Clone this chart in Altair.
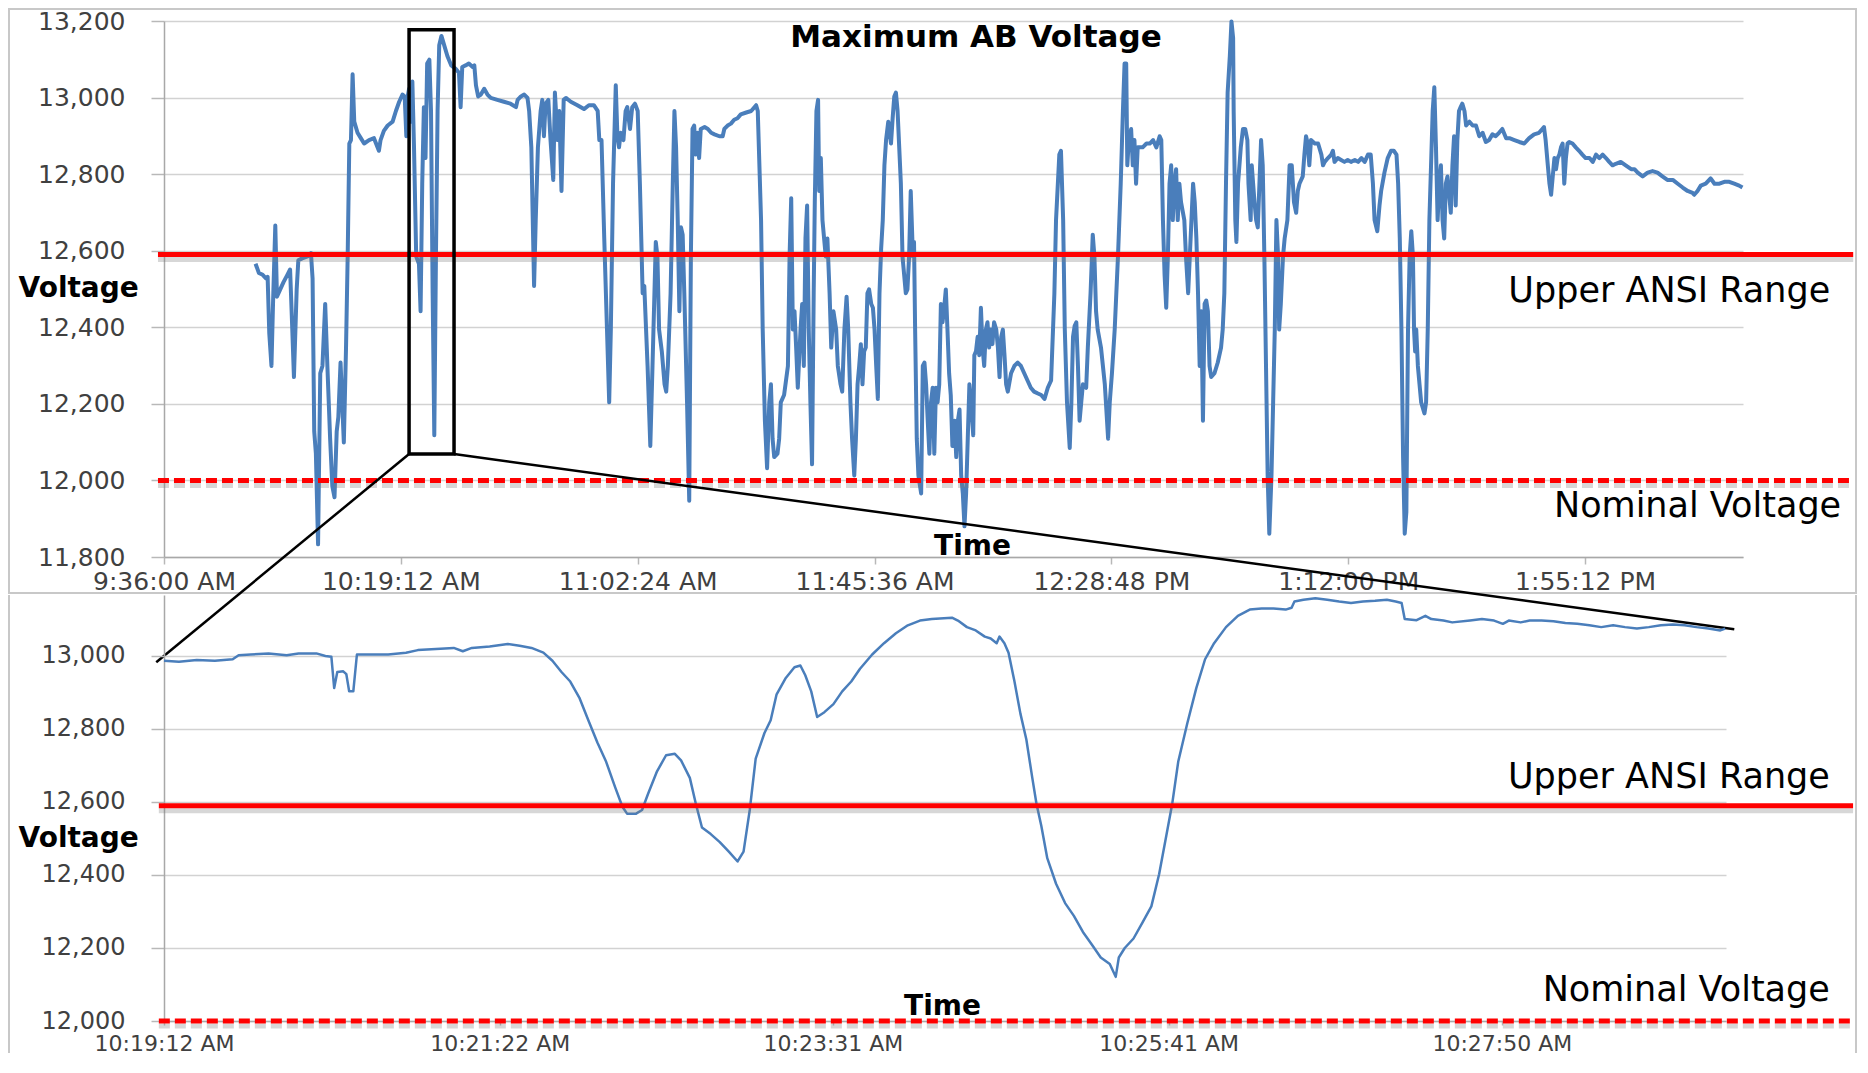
import altair as alt
import pandas as pd

# ---------------- data ----------------
# Top chart: (minutes after 9:36:00 AM, volts)
TOP_A = [
    (16.7, 12566), (17.3, 12542), (18.0, 12537), (18.6, 12528), (18.9, 12532), (19.2, 12385),
    (19.6, 12299), (19.9, 12470), (20.3, 12666), (20.6, 12480), (21.2, 12499), (21.8, 12518),
    (22.5, 12537), (23.0, 12551), (23.4, 12394), (23.7, 12270), (24.2, 12499), (24.5, 12575),
    (25.2, 12580), (26.2, 12585), (26.8, 12594), (27.1, 12528), (27.4, 12128), (27.7, 12071),
    (28.1, 11833), (28.5, 12280), (28.9, 12299), (29.4, 12461), (29.8, 12299), (30.3, 12109),
    (30.7, 11985), (31.1, 11956), (31.5, 12128), (31.8, 12166), (32.2, 12308), (32.5, 12204),
    (32.8, 12099), (33.2, 12347), (33.5, 12585), (33.8, 12880), (34.1, 12889), (34.4, 13061),
    (34.7, 12937), (35.3, 12908), (35.9, 12894), (36.5, 12880), (37.4, 12889), (38.3, 12894),
    (39.2, 12861), (39.5, 12889), (40.1, 12913), (40.8, 12927), (41.7, 12937), (42.3, 12965),
    (42.9, 12989), (43.5, 13008), (43.9, 13003), (44.2, 12899), (44.4, 12999), (44.7, 13023),
    (45.0, 12937), (45.3, 13042), (45.6, 12870), (46.0, 12585), (46.5, 12566), (46.8, 12442),
    (47.1, 12775), (47.4, 12975), (47.7, 12842), (48.0, 13089), (48.4, 13099), (48.7, 12965),
    (49.0, 12489), (49.3, 12118), (49.6, 12585), (49.9, 12965), (50.2, 13137), (50.6, 13161),
    (51.1, 13137), (51.7, 13108), (52.4, 13084), (53.2, 13075), (53.8, 13065), (54.1, 12975),
    (54.4, 13080), (55.0, 13084), (55.6, 13089), (56.3, 13080), (56.6, 13084), (56.9, 13032),
    (57.3, 13003), (57.8, 13008), (58.4, 13023), (59.0, 13008), (59.6, 12999), (60.8, 12994),
    (62.0, 12989), (63.2, 12984), (64.2, 12975), (64.5, 12994), (65.1, 13003), (65.7, 13008),
    (66.3, 12999), (66.6, 12965), (67.0, 12870), (67.5, 12508), (67.8, 12680), (68.2, 12870),
    (68.7, 12965), (69.0, 12994), (69.3, 12899), (69.6, 12984), (70.1, 12994), (70.5, 12889),
    (71.0, 12785), (71.3, 13013), (71.8, 12889), (72.1, 12965), (72.5, 12756), (72.9, 12994),
    (73.3, 12999), (74.2, 12989), (75.4, 12980), (76.6, 12970), (77.5, 12980), (78.4, 12980),
    (79.1, 12965), (79.4, 12889), (79.8, 12889), (80.3, 12632), (80.8, 12394), (81.2, 12204),
    (81.5, 12394), (81.9, 12775), (82.4, 13032), (82.7, 12899), (83.0, 12870), (83.3, 12908),
    (83.8, 12889), (84.2, 12965), (84.5, 12975), (85.0, 12918), (85.4, 12975), (85.9, 12984),
    (86.4, 12965), (86.8, 12775), (87.3, 12489), (87.6, 12508),
]
TOP_B = [
    (88.2, 12299), (88.7, 12090), (89.1, 12299), (89.7, 12623), (90.0, 12585), (90.3, 12394),
    (90.8, 12337), (91.3, 12251), (91.6, 12232), (91.9, 12299), (92.4, 12489), (92.8, 12775),
    (93.1, 12965), (93.4, 12870), (93.7, 12680), (94.0, 12442), (94.3, 12661), (94.6, 12642),
    (94.9, 12489), (95.4, 12204), (95.8, 11947), (96.1, 12585), (96.4, 12918), (96.7, 12927),
    (97.0, 12851), (97.3, 12908), (97.6, 12842), (97.9, 12918), (98.6, 12923), (99.2, 12918),
    (99.8, 12908), (100.4, 12904), (101.3, 12899), (101.9, 12899), (102.2, 12918), (102.8, 12927),
    (103.4, 12932), (104.0, 12942), (104.6, 12946), (105.2, 12956), (106.2, 12961), (107.1, 12965),
    (108.0, 12980), (108.3, 12965), (108.9, 12680), (109.2, 12394), (109.6, 12156), (110.0, 12032),
    (110.4, 12204), (110.7, 12251), (111.0, 12109), (111.3, 12061), (111.9, 12070), (112.2, 12109),
    (112.5, 12204), (113.1, 12223), (113.8, 12299), (114.1, 12585), (114.4, 12737), (114.7, 12394),
    (115.0, 12442), (115.3, 12347), (115.6, 12242), (116.1, 12394), (116.4, 12461), (116.7, 12299),
    (117.0, 12632), (117.3, 12718), (117.6, 12394), (117.9, 12204), (118.2, 12042), (118.5, 12489),
    (118.7, 12727), (119.0, 12965), (119.3, 12994), (119.5, 12756), (119.8, 12842), (120.1, 12680),
    (120.4, 12632), (120.7, 12585), (121.0, 12632), (121.4, 12489), (121.7, 12347), (122.1, 12442),
    (122.6, 12394), (122.9, 12299), (123.4, 12251), (123.7, 12232), (124.1, 12394), (124.5, 12480),
    (124.8, 12394), (125.2, 12204), (125.5, 12109), (125.9, 12013), (126.2, 12109), (126.5, 12251),
    (126.8, 12299), (127.1, 12356), (127.4, 12251), (127.7, 12337), (128.0, 12347), (128.3, 12489),
    (128.6, 12499), (129.0, 12461), (129.3, 12451), (129.6, 12394), (129.9, 12299), (130.2, 12213),
    (130.5, 12489), (130.8, 12604), (131.1, 12680), (131.4, 12823), (131.7, 12889), (132.1, 12937),
    (132.6, 12880), (132.9, 12946), (133.2, 13003), (133.5, 13013), (133.8, 12965), (134.1, 12870),
    (134.4, 12775), (134.7, 12585), (135.0, 12537), (135.3, 12489), (135.6, 12499), (135.9, 12585),
    (136.2, 12756), (136.6, 12585), (136.8, 12623), (137.0, 12394), (137.3, 12109), (137.6, 12013),
    (138.1, 11966), (138.4, 12299), (138.7, 12308), (139.0, 12251), (139.3, 12156), (139.6, 12070),
    (139.9, 12204), (140.2, 12242), (140.5, 12070), (140.8, 12242), (141.1, 12204), (141.4, 12251),
    (141.7, 12461), (142.0, 12413), (142.3, 12451), (142.6, 12499), (142.9, 12394), (143.2, 12280),
    (143.5, 12223), (143.8, 12090), (144.2, 12156), (144.5, 12061), (144.8, 12156), (145.1, 12185),
    (145.4, 12013), (145.7, 11966), (146.0, 11880), (146.3, 11966), (146.6, 12109), (146.9, 12251),
    (147.2, 12204), (147.6, 12118), (147.8, 12327), (148.1, 12337), (148.4, 12375), (148.7, 12327),
    (149.0, 12451), (149.3, 12347), (149.6, 12299), (149.9, 12394), (150.2, 12413), (150.5, 12347),
    (150.8, 12394), (151.1, 12356), (151.4, 12413), (151.8, 12394), (152.1, 12347), (152.4, 12270),
    (152.7, 12375), (153.0, 12394), (153.3, 12327), (153.6, 12251), (153.9, 12232), (154.5, 12280),
    (155.1, 12299), (155.7, 12308), (156.3, 12299), (156.9, 12280), (157.5, 12261), (158.1, 12242),
    (158.7, 12232), (159.4, 12227), (160.0, 12223), (160.6, 12213), (161.2, 12242), (161.8, 12261),
    (162.4, 12489), (162.7, 12680),
]
TOP_C = [
    (163.3, 12851), (163.6, 12861), (164.0, 12680), (164.3, 12394), (164.7, 12204), (165.2, 12085),
    (165.5, 12204), (165.8, 12375), (166.1, 12404), (166.4, 12413), (166.7, 12299), (167.0, 12156),
    (167.3, 12204), (167.6, 12251), (168.2, 12242), (168.5, 12347), (169.0, 12489), (169.4, 12642),
    (169.7, 12585), (170.0, 12442), (170.3, 12394), (170.9, 12347), (171.6, 12251), (172.2, 12109),
    (172.5, 12204), (172.9, 12280), (173.4, 12394), (174.0, 12585), (174.5, 12775), (174.9, 12965),
    (175.2, 13089), (175.5, 13089), (175.7, 12823), (175.9, 12870), (176.1, 12889), (176.4, 12918),
    (176.7, 12823), (177.0, 12889), (177.3, 12775), (177.6, 12870), (178.5, 12870), (179.2, 12880),
    (179.8, 12880), (180.4, 12889), (181.0, 12870), (181.6, 12899), (181.9, 12889), (182.2, 12680),
    (182.5, 12537), (182.8, 12451), (183.1, 12585), (183.4, 12775), (183.7, 12823), (184.0, 12680),
    (184.3, 12775), (184.6, 12813), (184.9, 12680), (185.2, 12775), (185.5, 12727), (186.1, 12680),
    (186.4, 12585), (186.8, 12489), (187.1, 12585), (187.4, 12680), (187.7, 12775), (188.0, 12727),
    (188.3, 12632), (188.6, 12489), (188.9, 12299), (189.2, 12442), (189.5, 12156), (189.8, 12461),
    (190.1, 12470), (190.4, 12442), (190.7, 12299), (191.0, 12270), (191.6, 12280), (192.2, 12308),
    (192.8, 12347), (193.1, 12394), (193.4, 12489), (193.7, 12775), (194.0, 13013), (194.4, 13108),
    (194.7, 13199), (195.0, 13156), (195.1, 12965), (195.4, 12680), (195.6, 12623), (195.9, 12775),
    (196.4, 12870), (196.8, 12918), (197.2, 12918), (197.6, 12889), (197.8, 12775), (198.2, 12680),
    (198.4, 12823), (198.9, 12727), (199.2, 12680), (199.5, 12661), (199.8, 12775), (200.1, 12889),
    (200.4, 12823), (200.7, 12585), (201.0, 12299), (201.3, 12013), (201.6, 11861), (202.0, 12013),
    (202.3, 12204), (202.6, 12394), (202.9, 12680), (203.2, 12585), (203.4, 12394), (203.7, 12461),
    (204.1, 12585), (204.4, 12632), (204.9, 12680), (205.3, 12823), (205.7, 12823), (206.1, 12727),
    (206.5, 12699), (206.8, 12756), (207.1, 12775), (207.7, 12794), (208.0, 12851), (208.3, 12899),
    (208.6, 12880), (208.9, 12823), (209.2, 12889), (209.9, 12880), (210.5, 12880), (211.1, 12851),
    (211.4, 12823), (211.7, 12832), (212.3, 12842), (212.9, 12851), (213.2, 12861), (213.5, 12832),
    (214.1, 12842), (214.7, 12837), (215.3, 12832), (215.9, 12837), (216.5, 12832), (217.2, 12837),
    (217.8, 12832), (218.4, 12842), (219.0, 12832), (219.6, 12851), (220.1, 12851), (220.5, 12775),
    (220.8, 12680), (221.3, 12651), (221.7, 12718), (222.0, 12756), (222.6, 12804), (223.2, 12842),
    (223.8, 12861), (224.3, 12861), (224.8, 12851), (225.1, 12775), (225.4, 12632), (225.7, 12394),
    (226.0, 12061), (226.3, 11861), (226.6, 11918), (226.9, 12394), (227.2, 12585), (227.5, 12651),
    (227.8, 12585), (228.0, 12394), (228.2, 12337), (228.4, 12394), (228.7, 12299), (229.0, 12251),
    (229.3, 12204), (229.9, 12175), (230.2, 12204), (230.5, 12394), (230.8, 12680),
]
TOP_D = [
    (231.4, 12965), (231.7, 13027), (232.0, 12870), (232.3, 12680), (232.6, 12775), (232.9, 12823),
    (233.2, 12680), (233.5, 12632), (233.8, 12775), (234.1, 12794), (234.7, 12699), (235.0, 12823),
    (235.3, 12899), (235.6, 12718), (235.9, 12889), (236.2, 12965), (236.5, 12975), (236.8, 12984),
    (237.2, 12965), (237.5, 12927), (238.1, 12937), (238.7, 12927), (239.3, 12927), (239.9, 12899),
    (240.5, 12908), (241.1, 12884), (241.7, 12889), (242.3, 12904), (242.9, 12899), (243.5, 12908),
    (244.1, 12918), (244.8, 12894), (245.4, 12894), (246.3, 12889), (247.2, 12884), (248.1, 12880),
    (249.0, 12894), (249.9, 12904), (250.8, 12908), (251.4, 12918), (251.7, 12923), (252.0, 12889),
    (252.4, 12823), (252.7, 12775), (253.0, 12746), (253.3, 12794), (253.6, 12842), (253.9, 12813),
    (254.2, 12842), (254.5, 12851), (254.8, 12870), (255.1, 12880), (255.4, 12775), (255.7, 12842),
    (256.0, 12880), (256.3, 12884), (256.9, 12880), (257.5, 12870), (258.1, 12861), (258.7, 12851),
    (259.3, 12842), (260.0, 12842), (260.6, 12832), (261.2, 12851), (261.8, 12842), (262.4, 12851),
    (263.0, 12842), (263.6, 12832), (264.2, 12823), (264.8, 12827), (265.7, 12832), (266.6, 12823),
    (267.6, 12813), (268.2, 12813), (268.8, 12804), (269.7, 12794), (270.6, 12804), (271.5, 12808),
    (272.4, 12804), (273.3, 12794), (274.2, 12785), (275.2, 12785), (276.1, 12775), (277.0, 12765),
    (277.9, 12756), (278.8, 12751), (279.1, 12746), (279.7, 12756), (280.3, 12770), (281.2, 12775),
    (282.1, 12789), (282.8, 12775), (283.7, 12775), (284.6, 12780), (285.5, 12780), (286.4, 12775),
    (287.3, 12770), (287.9, 12765),
]

# Zoomed chart: (seconds after 10:19:12 AM, volts)
ZOOM_A = [
    (0, 12987), (5.8, 12984), (12.7, 12989), (19.7, 12987), (26.6, 12991), (28.9, 13002),
    (33.6, 13004), (40.5, 13007), (47.5, 13002), (52.1, 13007), (59.0, 13007), (62.5, 13000),
    (64.8, 12998), (65.9, 12912), (67.1, 12956), (69.4, 12958), (70.6, 12950), (71.7, 12903),
    (73.3, 12903), (74.7, 13004), (79.8, 13004), (86.8, 13004), (93.7, 13009), (98.3, 13016),
    (105.3, 13019), (112.2, 13022), (115.7, 13013), (119.2, 13022), (126.1, 13026), (133.1, 13033),
    (137.7, 13028), (142.3, 13022), (146.9, 13009), (150.4, 12987), (153.9, 12956), (157.3, 12930),
    (160.8, 12886), (164.3, 12824), (167.8, 12763), (171.2, 12710), (174.7, 12640), (177.5, 12587),
    (179.3, 12568), (182.8, 12568), (185.1, 12578), (187.4, 12622), (190.9, 12684), (194.4, 12728),
    (197.8, 12732), (200.2, 12714), (203.6, 12666), (205.9, 12596), (208.3, 12530), (211.7, 12512),
    (215.2, 12490), (218.7, 12464), (222.1, 12437), (224.4, 12464), (226.8, 12578), (229.1, 12719),
    (232.5, 12789), (234.9, 12824), (237.2, 12895), (240.6, 12938), (244.1, 12969), (246.4, 12974),
    (248.3, 12947), (250.6, 12903), (252.9, 12833), (255.7, 12846), (259.2, 12868), (262.6, 12903),
    (266.1, 12930), (269.5, 12965), (274.2, 13004), (278.8, 13035), (283.4, 13062), (288.0, 13084),
    (292.7, 13097), (297.3, 13101),
]
ZOOM_B = [
    (305.1, 13105), (307.4, 13097), (310.9, 13079), (314.3, 13070), (317.8, 13053), (320.1, 13048),
    (322.4, 13035), (323.5, 13053), (325.4, 13035), (327.0, 13009), (329.3, 12930), (331.6, 12842),
    (333.9, 12771), (336.2, 12666), (337.8, 12596), (339.7, 12534), (342.0, 12446), (345.4, 12376),
    (348.9, 12323), (352.3, 12288), (355.8, 12244), (359.3, 12209), (362.7, 12174), (366.2, 12156),
    (368.5, 12121), (369.7, 12174), (372.0, 12200), (375.4, 12226), (378.9, 12270), (382.3, 12314),
    (385.3, 12402), (388.1, 12508), (390.4, 12596), (392.7, 12710), (396.2, 12815), (399.7, 12912),
    (403.1, 12991), (406.6, 13035), (411.2, 13079), (415.8, 13110), (420.4, 13127), (425.0, 13130),
    (429.6, 13130), (434.3, 13127), (436.6, 13132), (437.7, 13149), (441.2, 13154), (445.8, 13158),
    (450.4, 13154), (455.0, 13149), (459.6, 13145), (464.2, 13149), (468.9, 13151), (473.5, 13154),
    (476.9, 13149), (479.2, 13145), (480.4, 13101), (485.0, 13098), (488.4, 13110), (490.7, 13101),
    (495.4, 13097), (498.8, 13092), (505.7, 13097), (510.3, 13101), (515.0, 13097), (518.4, 13088),
    (520.7, 13097), (525.3, 13092), (528.8, 13097), (533.4, 13097), (538.0, 13095), (542.6, 13090),
    (547.2, 13088), (551.9, 13084), (556.5, 13079), (561.1, 13084), (565.7, 13079), (570.3, 13075),
    (574.9, 13079), (579.6, 13084), (584.2, 13086), (588.8, 13084), (593.4, 13079), (598.0, 13075),
    (602.6, 13070), (604.5, 13075),
]

TOP_TICKS = [(9, 36, 0), (10, 19, 12), (11, 2, 24), (11, 45, 36), (12, 28, 48), (13, 12, 0), (13, 55, 12)]
ZOOM_TICKS = [(10, 19, 12), (10, 21, 22), (10, 23, 31), (10, 25, 41), (10, 27, 50)]
TOP_Y_TICKS = [11800, 12000, 12200, 12400, 12600, 12800, 13000, 13200]
ZOOM_Y_TICKS = [12000, 12200, 12400, 12600, 12800, 13000]

UPPER_ANSI = 12590
NOMINAL = 12000
TITLE = "Maximum AB Voltage"
LBL_UPPER = "Upper ANSI Range"
LBL_NOMINAL = "Nominal Voltage"

# ---------------- layout / style ----------------
TOP_W, TOP_H = 1579, 536
BOT_W, BOT_H = 1562, 426
GAP = 38
TOP_SPAN_MIN = 288.0
TOP_YMIN, TOP_YMAX = 11800, 13200
ZOOM_SPAN_S = 604.8
ZOOM_YMIN, ZOOM_YMAX = 12000, 13167

BLUE = "#4a7ebb"
RED = "#ff0000"
GRID = "#d2d2d2"
FRAME = "#c8c8c8"
FONT = "DejaVu Sans"

T0 = pd.Timestamp("2013-06-01 09:36:00")
Z0 = pd.Timestamp("2013-06-01 10:19:12")


def stamp(ts):
    return ts.strftime("%Y-%m-%dT%H:%M:%S.") + f"{ts.microsecond // 1000:03d}"


def top_t(minutes):
    return stamp(T0 + pd.Timedelta(minutes=minutes))


def zoom_t(sec):
    return stamp(Z0 + pd.Timedelta(seconds=sec))


def dt(h, m, s=0, ms=0):
    return alt.DateTime(year=2013, month=6, date=1, hours=h, minutes=m, seconds=s, milliseconds=ms)


top_df = pd.DataFrame(TOP_A + TOP_B + TOP_C + TOP_D, columns=["m", "v"])
top_df["t"] = [top_t(m) for m in top_df["m"]]
zoom_df = pd.DataFrame(ZOOM_A + ZOOM_B, columns=["s", "v"])
zoom_df["t"] = [zoom_t(s) for s in zoom_df["s"]]

one = pd.DataFrame({"k": [0]})

# shared encodings (identical axis definitions in every layer so they merge)
X_TOP = alt.X("t:T", scale=alt.Scale(domain=[dt(9, 36), dt(14, 24)]), axis=alt.Axis(
    values=[dt(*t) for t in TOP_TICKS], format="%-I:%M:%S %p", grid=False,
    labelFlush=False, labelOverlap=False, tickSize=7, labelPadding=5, labelFontSize=25,
    title="Time", titleX=808, titleY=-11, titleAlign="center", titleBaseline="middle",
))
Y_TOP = alt.Y("v:Q", scale=alt.Scale(domain=[TOP_YMIN, TOP_YMAX], nice=False, zero=False), axis=alt.Axis(
    values=TOP_Y_TICKS, format=",d", grid=True, tickSize=13, labelPadding=26, labelFontSize=25,
    title="Voltage", titleAngle=0, titleX=-146, titleY=267, titleAlign="left", titleBaseline="middle",
))
X_ZOOM = alt.X("t:T", scale=alt.Scale(domain=[dt(10, 19, 12), dt(10, 29, 16, 800)]), axis=alt.Axis(
    values=[dt(*t) for t in ZOOM_TICKS], format="%-I:%M:%S %p", grid=False,
    labelFlush=False, labelOverlap=False, tickSize=4, labelPadding=8, labelFontSize=22,
    title="Time", titleX=778, titleY=-15, titleAlign="center", titleBaseline="middle",
))
Y_ZOOM = alt.Y("v:Q", scale=alt.Scale(domain=[ZOOM_YMIN, ZOOM_YMAX], nice=False, zero=False), axis=alt.Axis(
    values=ZOOM_Y_TICKS, format=",d", grid=True, tickSize=13, labelPadding=26, labelFontSize=24,
    title="Voltage", titleAngle=0, titleX=-146, titleY=243, titleAlign="left", titleBaseline="middle",
))


def bottom_to_top(sec, volts):
    """Place a point of the zoomed panel in the top panel's coordinates (for connector lines)."""
    px = BOT_W * sec / ZOOM_SPAN_S
    py = TOP_H + GAP + BOT_H * (ZOOM_YMAX - volts) / (ZOOM_YMAX - ZOOM_YMIN)
    minutes = px / TOP_W * TOP_SPAN_MIN
    v = TOP_YMAX - py / TOP_H * (TOP_YMAX - TOP_YMIN)
    return minutes, v


def ref_layers(df, X, Y):
    enc = dict(x=X, x2="t2:T", y=Y)
    solid = df[df["kind"] == "solid"]
    dashed = df[df["kind"] == "dashed"]
    return [
        alt.Chart(solid).mark_rule(color="#7a7a7a", strokeWidth=5, opacity=0.3, yOffset=5).encode(**enc),
        alt.Chart(dashed).mark_rule(color="#7a7a7a", strokeWidth=5, opacity=0.3, yOffset=5,
                                    strokeDash=[11, 5]).encode(**enc),
        alt.Chart(solid).mark_rule(color=RED, strokeWidth=5).encode(**enc),
        alt.Chart(dashed).mark_rule(color=RED, strokeWidth=5, strokeDash=[11, 5]).encode(**enc),
    ]


# ---------------- top panel ----------------
top_refs = pd.DataFrame({
    "t": [top_t(-1.1), top_t(-1.1)],
    "t2": [top_t(308.1), top_t(308.1)],
    "v": [UPPER_ANSI, NOMINAL],
    "kind": ["solid", "dashed"],
})
top_labels = pd.DataFrame({
    "t": [top_t(303.9), top_t(305.9)],
    "v": [12495, 11934],
    "label": [LBL_UPPER, LBL_NOMINAL],
})
top_title = pd.DataFrame({"t": [top_t(148.1)], "v": [13156], "label": [TITLE]})
box = pd.DataFrame({"t": [top_t(44.7)], "t2": [top_t(52.9)], "v": [13177], "v2": [12069]})

lm, lv = bottom_to_top(-3, 12983)
rm, rv = bottom_to_top(608, 13073)
connectors = pd.DataFrame({
    "t": [top_t(44.7), top_t(52.9)],
    "v": [12069, 12069],
    "t2": [top_t(lm), top_t(rm)],
    "v2": [lv, rv],
})

top_frame = alt.Chart(one).mark_rect(fillOpacity=0, stroke=FRAME, strokeWidth=2).encode(
    x=alt.value(-155), x2=alt.value(TOP_W + 113), y=alt.value(-12), y2=alt.value(TOP_H + 36)
)
top_line = alt.Chart(top_df).mark_line(color=BLUE, strokeWidth=4, strokeJoin="round").encode(x=X_TOP, y=Y_TOP)
top_text = alt.Chart(top_labels).mark_text(font=FONT, fontSize=35, align="right", baseline="middle",
                                           color="black").encode(x=X_TOP, y=Y_TOP, text="label:N")
top_title_mark = alt.Chart(top_title).mark_text(font=FONT, fontSize=31, fontWeight="bold", align="center",
                                                baseline="middle", color="black").encode(
    x=X_TOP, y=Y_TOP, text="label:N")
box_mark = alt.Chart(box).mark_rect(fillOpacity=0, stroke="black", strokeWidth=3.5).encode(
    x=X_TOP, x2="t2:T", y=Y_TOP, y2="v2:Q")
conn_mark = alt.Chart(connectors).mark_rule(color="black", strokeWidth=2.5).encode(
    x=X_TOP, x2="t2:T", y=Y_TOP, y2="v2:Q")

top = alt.layer(
    top_frame, top_line, *ref_layers(top_refs, X_TOP, Y_TOP), top_text, top_title_mark, box_mark, conn_mark
).properties(width=TOP_W, height=TOP_H)

# ---------------- zoomed panel ----------------
zoom_refs = pd.DataFrame({
    "t": [zoom_t(-2), zoom_t(-2)],
    "t2": [zoom_t(654), zoom_t(654)],
    "v": [UPPER_ANSI, NOMINAL],
    "kind": ["solid", "dashed"],
})
zoom_labels = pd.DataFrame({
    "t": [zoom_t(645), zoom_t(645)],
    "v": [12668, 12085],
    "label": [LBL_UPPER, LBL_NOMINAL],
})

bot_frame_l = alt.Chart(one).mark_rule(color=FRAME, strokeWidth=2).encode(
    x=alt.value(-155), y=alt.value(0), y2=alt.value(BOT_H + 32))
bot_frame_r = alt.Chart(one).mark_rule(color=FRAME, strokeWidth=2).encode(
    x=alt.value(TOP_W + 113), y=alt.value(0), y2=alt.value(BOT_H + 32))

zoom_line = alt.Chart(zoom_df).mark_line(color=BLUE, strokeWidth=2.5, strokeJoin="round").encode(
    x=X_ZOOM, y=Y_ZOOM)
zoom_text = alt.Chart(zoom_labels).mark_text(font=FONT, fontSize=35, align="right", baseline="middle",
                                             color="black").encode(x=X_ZOOM, y=Y_ZOOM, text="label:N")

bottom = alt.layer(
    bot_frame_l, bot_frame_r, zoom_line, *ref_layers(zoom_refs, X_ZOOM, Y_ZOOM), zoom_text
).properties(width=BOT_W, height=BOT_H)

chart = alt.vconcat(top, bottom, spacing=GAP, bounds="flush").properties(padding=0).configure_view(
    strokeWidth=0
).configure_axis(
    labelFont=FONT, labelColor="#404040",
    titleFont=FONT, titleFontSize=28, titleFontWeight="bold", titleColor="black",
    gridColor=GRID, gridWidth=1.5, domainColor="#a8a8a8", domainWidth=1.5,
    tickColor="#b8b8b8", tickWidth=1.5,
)

chart.save("out.html", embed_options={"renderer": "svg", "actions": False})
